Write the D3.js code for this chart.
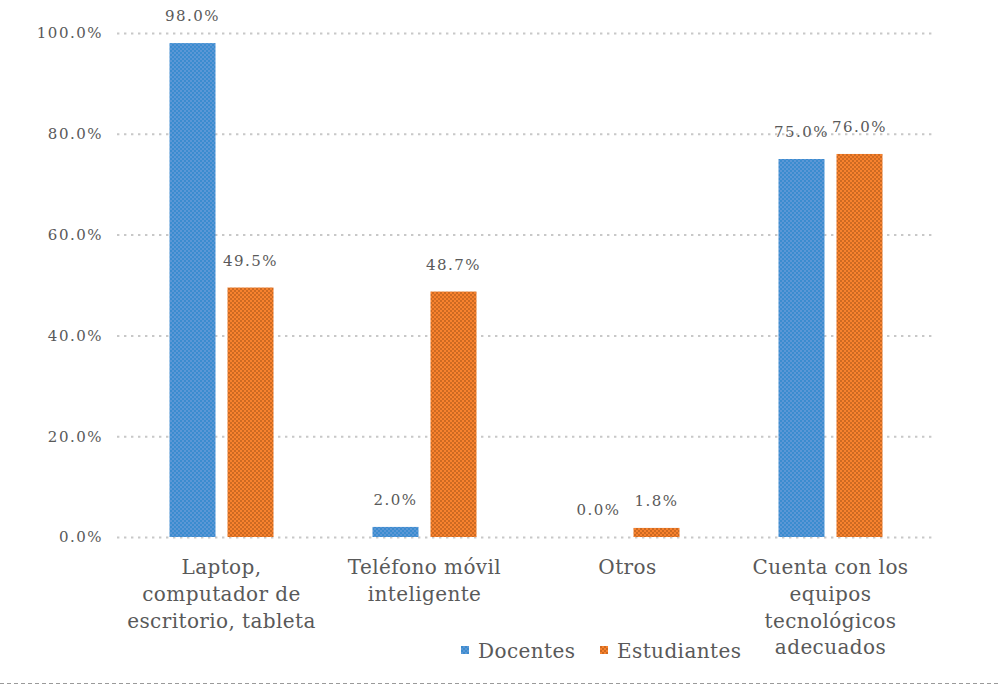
<!DOCTYPE html>
<html>
<head>
<meta charset="utf-8">
<script src="https://cdn.jsdelivr.net/npm/d3@7"></script>
<style>
  body { margin: 0; background: #ffffff; }
  svg { display: block; }
</style>
</head>
<body>
<div id="chart"></div>
<script>
var categories = ["Laptop,\ncomputador de\nescritorio, tableta", "Teléfono móvil\ninteligente", "Otros", "Cuenta con los\nequipos\ntecnológicos\nadecuados"];
var series = ["Docentes", "Estudiantes"];
var docentes = [0.98, 0.02, 0.0, 0.75];
var estudiantes = [0.495, 0.487, 0.018, 0.76];
var y_ticks = [0, 0.2, 0.4, 0.6, 0.8, 1.0];

var width = 1001, height = 685;
var plot = { left: 120, right: 932, top: 33, bottom: 537 };
var text_color = "#595959";
var font = "'DejaVu Serif', 'Liberation Serif', serif";

var svg = d3.select("#chart").append("svg")
    .attr("width", width)
    .attr("height", height);

// checker patterns for the bars
var defs = svg.append("defs");
var pattern_map = {
    Docentes: { id: "pat_doc", base: "#5b97d6", alt: "#3b8ccf" },
    Estudiantes: { id: "pat_est", base: "#f8822e", alt: "#cd6a22" }
};
series.forEach(function(s) {
    var p = pattern_map[s];
    var pat = defs.append("pattern")
        .attr("id", p.id)
        .attr("width", 4)
        .attr("height", 4)
        .attr("patternUnits", "userSpaceOnUse");
    pat.append("rect").attr("width", 4).attr("height", 4).attr("fill", p.base);
    pat.append("rect").attr("width", 2).attr("height", 2).attr("fill", p.alt);
    pat.append("rect").attr("x", 2).attr("y", 2).attr("width", 2).attr("height", 2).attr("fill", p.alt);
});

var y = d3.scaleLinear().domain([0, 1]).range([plot.bottom, plot.top]);
var x = d3.scaleBand().domain(categories).range([plot.left, plot.right]);
var bw = x.bandwidth();
var x_sub = d3.scaleBand().domain(series)
    .range([bw / 2 - 52, bw / 2 + 52])
    .paddingInner(0.207);

// gridlines (slightly wider than the category bands)
svg.append("g").selectAll("line")
    .data(y_ticks)
    .join("line")
    .attr("x1", plot.left - 3)
    .attr("x2", plot.right + 3)
    .attr("y1", function(d) { return y(d) + 0.5; })
    .attr("y2", function(d) { return y(d) + 0.5; })
    .attr("stroke", "#c8c8c8")
    .attr("stroke-width", 2)
    .attr("stroke-dasharray", "2.4,4.6");

// y axis labels
var y_axis = svg.append("g")
    .attr("transform", "translate(" + (plot.left - 14) + ",0)")
    .call(d3.axisLeft(y).tickValues(y_ticks).tickSize(0).tickFormat(d3.format(".1%")));
y_axis.select(".domain").remove();
y_axis.selectAll("text")
    .attr("fill", text_color)
    .attr("font-family", font)
    .attr("font-size", 15)
    .attr("letter-spacing", 1.5);

// bars
var values = { Docentes: docentes, Estudiantes: estudiantes };
var rows = [];
categories.forEach(function(c, i) {
    series.forEach(function(s) {
        rows.push({ cat: c, ser: s, val: values[s][i] });
    });
});

var bar_group = svg.append("g");
bar_group.selectAll("rect")
    .data(rows.filter(function(d) { return d.val > 0; }))
    .join("rect")
    .attr("x", function(d) { return x(d.cat) + x_sub(d.ser); })
    .attr("y", function(d) { return y(d.val); })
    .attr("width", x_sub.bandwidth())
    .attr("height", function(d) { return y(0) - y(d.val); })
    .attr("fill", function(d) { return "url(#" + pattern_map[d.ser].id + ")"; });

// value labels
bar_group.selectAll("text")
    .data(rows)
    .join("text")
    .attr("x", function(d) { return x(d.cat) + x_sub(d.ser) + x_sub.bandwidth() / 2; })
    .attr("y", function(d) { return y(d.val) - 22; })
    .attr("text-anchor", "middle")
    .attr("fill", text_color)
    .attr("font-family", font)
    .attr("font-size", 15)
    .attr("letter-spacing", 1.5)
    .text(function(d) { return d3.format(".1%")(d.val); });

// category labels
var cat_labels = svg.append("g").selectAll("text")
    .data(categories)
    .join("text")
    .attr("x", function(d) { return x(d) + bw / 2; })
    .attr("y", 574)
    .attr("text-anchor", "middle")
    .attr("fill", text_color)
    .attr("font-family", font)
    .attr("font-size", 20)
    .attr("letter-spacing", 0.4);
cat_labels.each(function(d) {
    var t = d3.select(this);
    d.split("\n").forEach(function(line, k) {
        t.append("tspan")
            .attr("x", x(d) + bw / 2)
            .attr("dy", k === 0 ? 0 : 26.8)
            .text(line);
    });
});

// legend
var legend_x = [461, 600];
var legend = svg.append("g").selectAll("g")
    .data(series)
    .join("g")
    .attr("transform", function(d, i) { return "translate(" + legend_x[i] + ",646)"; });
legend.append("rect")
    .attr("width", 8)
    .attr("height", 8)
    .attr("fill", function(d) { return "url(#" + pattern_map[d].id + ")"; });
legend.append("text")
    .attr("x", 17)
    .attr("y", 12)
    .attr("fill", text_color)
    .attr("font-family", font)
    .attr("font-size", 20)
    .attr("letter-spacing", 0.4)
    .text(function(d) { return d; });

// bottom dashed border
svg.append("line")
    .attr("x1", 0)
    .attr("x2", width)
    .attr("y1", 683.5)
    .attr("y2", 683.5)
    .attr("stroke", "#9a9a9a")
    .attr("stroke-width", 1)
    .attr("stroke-dasharray", "4,3");
</script>
</body>
</html>
